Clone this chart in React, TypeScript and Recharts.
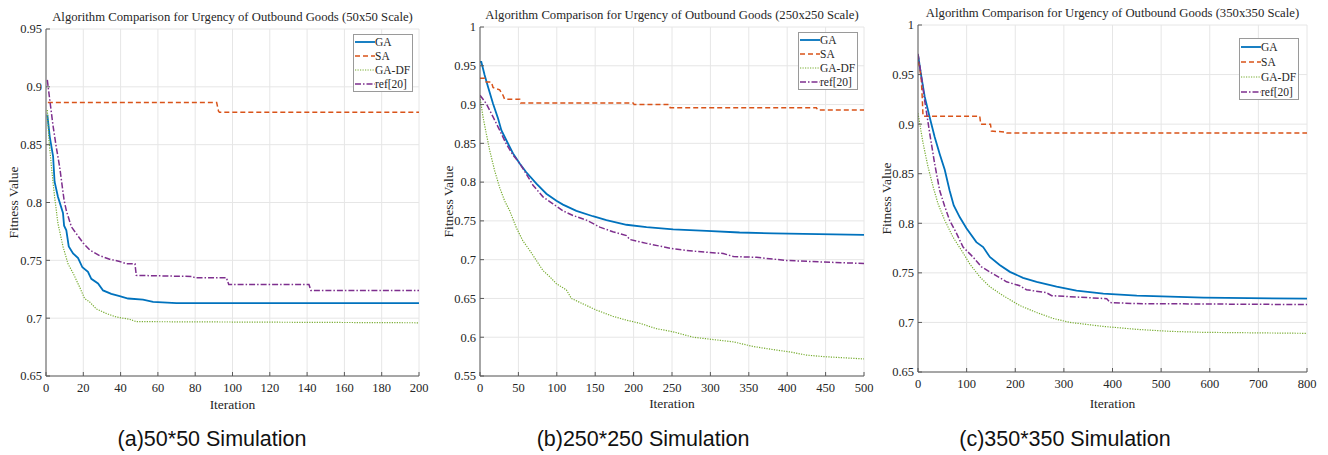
import { LineChart, Line, XAxis, YAxis, CartesianGrid, Legend } from "recharts"

type Pt = [number, number]

// [iteration, fitness]

// (a) 50x50
const aGA: Pt[] = [[0.7,0.876],[2,0.857],[3.8,0.84],[4.6,0.818],[6.4,0.805],[9.1,0.791],[9.7,0.78],[10.9,0.776],[12.2,0.762],[14.5,0.756],[17.2,0.752],[19.5,0.744],[22.5,0.74],[24.3,0.734],[27.9,0.73],[30.6,0.724],[35,0.721],[39.5,0.719],[44,0.717],[52,0.716],[57.4,0.714],[70,0.713],[200,0.713]]
const aSA: Pt[] = [[1,0.8865],[91.5,0.8865],[92.5,0.879],[93,0.878],[200,0.878]]
const aGADF: Pt[] = [[0.7,0.88],[1.6,0.854],[2.9,0.831],[4.6,0.805],[6.4,0.782],[9.1,0.762],[11.8,0.747],[14.5,0.739],[18,0.727],[20.7,0.717],[23.4,0.714],[27,0.708],[32.4,0.704],[37.7,0.701],[44.9,0.699],[48.4,0.697],[200,0.696]]
const aRef: Pt[] = [[0.7,0.906],[2,0.889],[3.8,0.866],[5.5,0.848],[7.3,0.831],[9.7,0.802],[10.9,0.793],[13.6,0.779],[16.3,0.773],[19.9,0.765],[23.4,0.759],[28.8,0.754],[34.1,0.751],[39.5,0.749],[43.1,0.747],[47.7,0.747],[48.4,0.737],[78.8,0.736],[79.7,0.735],[96.7,0.735],[98,0.729],[141,0.729],[142,0.724],[200,0.724]]

// (b) 250x250
const bGA: Pt[] = [[0,0.955],[1.7,0.955],[6,0.938],[10.4,0.923],[17,0.901],[23.5,0.882],[27.8,0.867],[34.3,0.854],[43,0.837],[51.7,0.824],[60,0.813],[73.4,0.798],[86.4,0.785],[99.5,0.776],[108,0.771],[125.5,0.763],[147,0.756],[164.6,0.751],[190.7,0.745],[216.8,0.742],[251.5,0.739],[295,0.737],[338,0.735],[382,0.734],[500,0.732]]
const bSA: Pt[] = [[0,0.934],[6,0.934],[8,0.929],[14.8,0.929],[17,0.922],[25.6,0.919],[30,0.912],[32,0.907],[51.7,0.907],[53,0.902],[199.4,0.902],[200.7,0.9],[246.3,0.9],[247.6,0.896],[438,0.896],[439.6,0.893],[500,0.893]]
const bGADF: Pt[] = [[0,0.91],[3.9,0.884],[8.3,0.862],[12.6,0.841],[19,0.815],[25.6,0.793],[32,0.776],[38.7,0.763],[47.4,0.741],[56,0.724],[64.7,0.712],[73.4,0.699],[82,0.686],[90.8,0.678],[99.5,0.669],[112.5,0.661],[119,0.65],[134,0.643],[151.6,0.635],[173,0.627],[190.7,0.622],[208,0.618],[229.8,0.611],[251.5,0.607],[277.6,0.6],[303.7,0.597],[330,0.594],[356,0.588],[382,0.584],[403.6,0.581],[425,0.577],[447,0.575],[500,0.572]]
const bRef: Pt[] = [[0,0.912],[8.3,0.901],[17,0.884],[25.6,0.867],[34.3,0.849],[43,0.835],[51.7,0.824],[60,0.811],[69,0.796],[82,0.781],[95,0.772],[108,0.763],[121,0.757],[138.6,0.751],[156,0.742],[173,0.736],[190.7,0.731],[195,0.726],[216.8,0.721],[251.5,0.714],[277.6,0.711],[316.7,0.708],[330,0.704],[360,0.703],[399,0.699],[447,0.697],[500,0.695]]

// (c) 350x350
const cGA: Pt[] = [[0,0.97],[6.9,0.948],[13.7,0.928],[24,0.907],[34.3,0.887],[44.6,0.87],[55,0.854],[65,0.833],[73.5,0.818],[86,0.806],[99.6,0.795],[120,0.781],[134,0.776],[147.7,0.766],[168,0.758],[189,0.751],[216,0.745],[244,0.741],[285,0.736],[326,0.732],[381,0.729],[450,0.727],[518.5,0.726],[587,0.725],[800,0.724]]
const cSA: Pt[] = [[0,0.963],[3.4,0.958],[6.9,0.944],[9,0.924],[10.3,0.908],[127,0.908],[129,0.9],[149,0.9],[151,0.893],[182,0.892],[183,0.891],[800,0.891]]
const cGADF: Pt[] = [[0,0.911],[10.3,0.881],[20.6,0.857],[31,0.837],[41,0.82],[55,0.803],[72,0.786],[89,0.773],[106.5,0.759],[127,0.746],[147.7,0.736],[175,0.727],[209.5,0.717],[244,0.71],[278,0.704],[312.5,0.7],[381,0.696],[450,0.693],[518.5,0.691],[587,0.69],[800,0.689]]
const cRef: Pt[] = [[0,0.971],[6.9,0.948],[13.7,0.924],[24,0.891],[34.3,0.86],[44.6,0.833],[55,0.817],[65,0.803],[79,0.79],[92.7,0.776],[113,0.766],[130.5,0.756],[154.5,0.749],[182,0.741],[209.5,0.737],[223,0.733],[264,0.73],[275,0.727],[312.5,0.726],[388,0.724],[395,0.72],[450,0.719],[800,0.718]]

const seriesNames = ["GA", "SA", "GA-DF", "ref[20]"]
const seriesColors = ["#0072BD", "#D95319", "#77AC30", "#7E2F8E"]
const seriesDash = ["", "5 3", "1.2 1.3", "6 2 1.5 2"]
const seriesWidth = [1.8, 1.5, 1.2, 1.5]

const aXTicks = [0, 20, 40, 60, 80, 100, 120, 140, 160, 180, 200]
const aYTicks = [0.65, 0.7, 0.75, 0.8, 0.85, 0.9, 0.95]
const bXTicks = [0, 50, 100, 150, 200, 250, 300, 350, 400, 450, 500]
const bYTicks = [0.55, 0.6, 0.65, 0.7, 0.75, 0.8, 0.85, 0.9, 0.95, 1]
const cXTicks = [0, 100, 200, 300, 400, 500, 600, 700, 800]
const cYTicks = [0.65, 0.7, 0.75, 0.8, 0.85, 0.9, 0.95, 1]

const SERIF = '"Liberation Serif", "Times New Roman", serif'
const SANS = '"Liberation Sans", Arial, sans-serif'
const AXIS = "#5a5a5a"
const INK = "#262626"

const panels = [
  {
    title: "Algorithm Comparison for Urgency of Outbound Goods (50x50 Scale)",
    caption: "(a)50*50 Simulation",
    series: [aGA, aSA, aGADF, aRef],
    xTicks: aXTicks, yTicks: aYTicks,
    left: 0, width: 440, yw: 46, xh: 36, xLabelOffset: 3.5, tickGap: 11, yLabelDx: 13, titleTop: 10,
    margin: { top: 29, right: 21, bottom: 8, left: 0 },
    legend: { top: 34, left: 353, row: 14 },
    captionCenter: 212,
  },
  {
    title: "Algorithm Comparison for Urgency of Outbound Goods (250x250 Scale)",
    caption: "(b)250*250 Simulation",
    series: [bGA, bSA, bGADF, bRef],
    xTicks: bXTicks, yTicks: bYTicks,
    left: 440, width: 440, yw: 40, xh: 36, xLabelOffset: 4.5, tickGap: 11, yLabelDx: 8, titleTop: 8,
    margin: { top: 27, right: 16, bottom: 8, left: 0 },
    legend: { top: 32, left: 358, row: 14 },
    captionCenter: 643,
  },
  {
    title: "Algorithm Comparison for Urgency of Outbound Goods (350x350 Scale)",
    caption: "(c)350*350 Simulation",
    series: [cGA, cSA, cGADF, cRef],
    xTicks: cXTicks, yTicks: cYTicks,
    left: 880, width: 448, yw: 38, xh: 38, xLabelOffset: 2.5, tickGap: 11.5, yLabelDx: 6, titleTop: 6,
    margin: { top: 25, right: 21, bottom: 10, left: 0 },
    legend: { top: 38, left: 359, row: 15 },
    captionCenter: 1065,
  },
]

const toRows = (pts: Pt[]) => pts.map(([x, y]) => ({ x, y }))
const fmt = (v: number) => String(Number(v.toFixed(2)))

function LegendBox({ row }: { row: number }) {
  return (
    <div style={{ border: "1px solid #9a9a9a", background: "#fff", padding: "0 2px 0 1px", fontFamily: SERIF, fontSize: 11.5, color: INK }}>
      {seriesNames.map((n, i) => (
        <div key={n} style={{ display: "flex", alignItems: "center", height: row, whiteSpace: "nowrap" }}>
          <svg width={20} height={4} style={{ display: "block" }}>
            <line x1={0} y1={2} x2={20} y2={2} stroke={seriesColors[i]} strokeWidth={seriesWidth[i]} strokeDasharray={seriesDash[i] || undefined} />
          </svg>
          <span>{n}</span>
        </div>
      ))}
    </div>
  )
}

const txt = { fontFamily: SERIF, fill: INK, style: { fontFamily: SERIF } }

const XTick = (props: any) => (
  <text x={props.x} y={props.y} dy="0.71em" textAnchor="middle" fontSize={12.5} {...txt}>{props.payload.value}</text>
)
const YTick = (props: any) => (
  <text x={props.x} y={props.y} dy="0.35em" textAnchor="end" fontSize={12.5} {...txt}>{fmt(props.payload.value)}</text>
)

const yLabel = (dx: number) => (props: any) => {
  const vb = props.viewBox
  const x = vb.x + dx
  const y = vb.y + vb.height / 2
  return (
    <text x={x} y={y} transform={`rotate(-90 ${x} ${y})`} textAnchor="middle" dominantBaseline="central" fontSize={13.5} {...txt}>
      Fitness Value
    </text>
  )
}
const xLabel = (offset: number) => (props: any) => {
  const vb = props.viewBox
  return (
    <text x={vb.x + vb.width / 2} y={vb.y + vb.height - offset} textAnchor="middle" fontSize={13.5} {...txt}>
      Iteration
    </text>
  )
}

function Panel({ p }: { p: any }) {
  const xDomain = [p.xTicks[0], p.xTicks[p.xTicks.length - 1]]
  const yDomain = [p.yTicks[0], p.yTicks[p.yTicks.length - 1]]
  const plotLeft = p.margin.left + p.yw
  const plotWidth = p.width - plotLeft - p.margin.right
  return (
    <div style={{ position: "absolute", left: p.left, top: 0, fontFamily: SERIF }}>
      <div style={{ position: "absolute", left: plotLeft - 40, width: plotWidth + 80, top: p.titleTop, textAlign: "center", fontSize: 12.7, lineHeight: "15px", color: INK, whiteSpace: "nowrap" }}>
        {p.title}
      </div>
      <LineChart width={p.width} height={420} margin={p.margin}>
        <CartesianGrid stroke="#e6e6e6" />
        <XAxis type="number" dataKey="x" domain={xDomain} ticks={p.xTicks} allowDataOverflow
          height={p.xh} tickSize={-4} tickMargin={p.tickGap} stroke={AXIS} tick={XTick}
          label={{ content: xLabel(p.xLabelOffset) }} />
        <YAxis type="number" dataKey="y" domain={yDomain} ticks={p.yTicks} allowDataOverflow
          width={p.yw} tickSize={-4} tickMargin={8} stroke={AXIS} tick={YTick}
          label={{ content: yLabel(p.yLabelDx) }} />
        <XAxis xAxisId="top" orientation="top" type="number" dataKey="x" domain={xDomain} ticks={p.xTicks} allowDataOverflow
          height={0} tick={false} tickSize={-4} stroke={AXIS} />
        <YAxis yAxisId="right" orientation="right" type="number" dataKey="y" domain={yDomain} ticks={p.yTicks} allowDataOverflow
          width={0} tick={false} tickSize={-4} stroke={AXIS} />
        {p.series.map((s: Pt[], i: number) => (
          <Line key={seriesNames[i]} name={seriesNames[i]} data={toRows(s)} dataKey="y" type="linear"
            stroke={seriesColors[i]} strokeWidth={seriesWidth[i]} strokeDasharray={seriesDash[i] || undefined}
            dot={false} activeDot={false} isAnimationActive={false} />
        ))}
        <Legend layout="vertical" align="center" verticalAlign="middle"
          wrapperStyle={{ top: p.legend.top, left: p.legend.left, width: "auto", height: "auto" }}
          content={() => <LegendBox row={p.legend.row} />} />
      </LineChart>
      <div style={{ position: "absolute", top: 427, left: p.captionCenter - p.left - 160, width: 320, textAlign: "center", fontFamily: SANS, fontSize: 21.5, color: "#111" }}>
        {p.caption}
      </div>
    </div>
  )
}

export default function App() {
  return (
    <div style={{ position: "absolute", left: 0, top: 0, width: 1328, height: 455, background: "#fff", overflow: "hidden" }}>
      {panels.map((p) => <Panel key={p.caption} p={p} />)}
    </div>
  )
}
